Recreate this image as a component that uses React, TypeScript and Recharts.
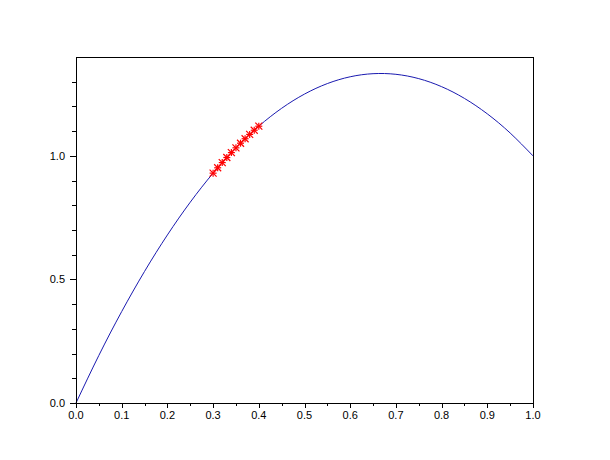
import { ComposedChart, Line, Scatter, XAxis, YAxis, ReferenceLine } from 'recharts'

// curve
const CURVE_X = [0, 0.05, 0.1, 0.15, 0.2, 0.25, 0.3, 0.35, 0.4, 0.45, 0.5, 0.55, 0.6, 0.65, 0.7, 0.75, 0.8, 0.85, 0.9, 0.95, 1.0]
const CURVE_Y = [0, 0.1925, 0.37, 0.5325, 0.68, 0.8125, 0.93, 1.0325, 1.12, 1.1925, 1.25, 1.2925, 1.32, 1.3325, 1.33, 1.3125, 1.28, 1.2325, 1.17, 1.0925, 1.0]

// red star markers
const MARK_X = [0.3, 0.31, 0.32, 0.33, 0.34, 0.35, 0.36, 0.37, 0.38, 0.39, 0.4]
const MARK_Y = [0.93, 0.9517, 0.9728, 0.9933, 1.0132, 1.0325, 1.0512, 1.0693, 1.0868, 1.1037, 1.12]

const X_TICKS = [0, 0.05, 0.1, 0.15, 0.2, 0.25, 0.3, 0.35, 0.4, 0.45, 0.5, 0.55, 0.6, 0.65, 0.7, 0.75, 0.8, 0.85, 0.9, 0.95, 1.0]
const Y_TICKS = [0, 0.1, 0.2, 0.3, 0.4, 0.5, 0.6, 0.7, 0.8, 0.9, 1.0, 1.1, 1.2, 1.3]
const Y_LABELS = [0, 0.5, 1.0]

const curve = CURVE_X.map((x, i) => ({ x, y: CURVE_Y[i] }))
const marks = MARK_X.map((x, i) => ({ x, y: MARK_Y[i] }))

const FONT = 'Liberation Sans, Arial, sans-serif'

const isMajorX = (v: number) => Math.abs(v * 10 - Math.round(v * 10)) < 1e-6

function XTick({ x, y, payload }: any) {
  const v = payload.value
  const major = isMajorX(v)
  const px = Math.round(x) + 0.5
  return (
    <g>
      <line x1={px} x2={px} y1={y} y2={y + (major ? 5 : 3)} stroke="#000" />
      {major && (
        <text x={x} y={y + 16} textAnchor="middle" fontSize={11} fontFamily={FONT} fill="#000">
          {v.toFixed(1)}
        </text>
      )}
    </g>
  )
}

function YTick({ x, y, payload }: any) {
  const v = payload.value
  const major = Y_LABELS.some(l => Math.abs(l - v) < 1e-6)
  const py = Math.round(y) + 0.5
  return (
    <g>
      <line x1={x - (major ? 6 : 4)} x2={x} y1={py} y2={py} stroke="#000" />
      {major && (
        <text x={x - 11} y={y + 4} textAnchor="end" fontSize={11} fontFamily={FONT} fill="#000">
          {v.toFixed(1)}
        </text>
      )}
    </g>
  )
}

function Star({ cx, cy }: any) {
  const r = 3.5
  return (
    <g stroke="#ff0000" strokeWidth={1.2}>
      <line x1={cx - r} x2={cx + r} y1={cy} y2={cy} />
      <line x1={cx} x2={cx} y1={cy - r} y2={cy + r} />
      <line x1={cx - r} x2={cx + r} y1={cy - r} y2={cy + r} />
      <line x1={cx - r} x2={cx + r} y1={cy + r} y2={cy - r} />
    </g>
  )
}

export default function App() {
  return (
    <div style={{ background: '#fff', width: 602, height: 452 }}>
      <ComposedChart width={602} height={452} margin={{ top: 49, right: 77, bottom: 27, left: 28 }}>
        <XAxis
          type="number"
          dataKey="x"
          domain={[0, 1]}
          ticks={X_TICKS}
          interval={0}
          tickSize={0}
          tickMargin={0}
          tickLine={false}
          tick={<XTick />}
          axisLine={{ stroke: '#000', shapeRendering: 'crispEdges' }}
          height={30}
        />
        <YAxis
          type="number"
          dataKey="y"
          domain={[0, 1.4]}
          ticks={Y_TICKS}
          interval={0}
          tickSize={0}
          tickMargin={0}
          tickLine={false}
          tick={<YTick />}
          axisLine={{ stroke: '#000', shapeRendering: 'crispEdges' }}
          width={40}
        />
        <ReferenceLine y={1.4} stroke="#000" shapeRendering="crispEdges" />
        <ReferenceLine x={1} stroke="#000" shapeRendering="crispEdges" />
        <Line
          data={curve}
          dataKey="y"
          type="natural"
          stroke="#1a1ab0"
          strokeWidth={1}
          dot={false}
          activeDot={false}
          isAnimationActive={false}
        />
        <Scatter data={marks} dataKey="y" shape={<Star />} isAnimationActive={false} />
      </ComposedChart>
    </div>
  )
}
